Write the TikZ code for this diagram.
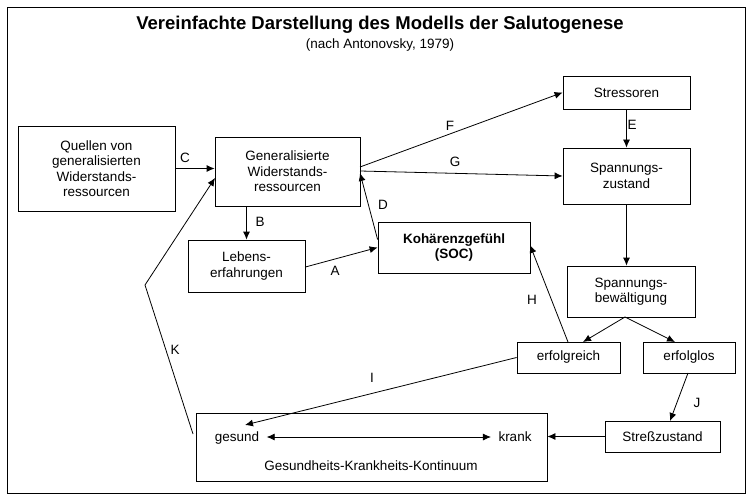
\documentclass[tikz,border=0pt]{standalone}
\usepackage{fontspec}
\setmainfont{Liberation Sans}
\usetikzlibrary{arrows.meta}
\begin{document}
\begin{tikzpicture}[x=1pt,y=-1pt,
  box/.style={draw,thick,align=center,inner sep=0pt,font=\fontsize{13.5}{15.5}\selectfont},
  lab/.style={font=\fontsize{13.5}{15.5}\selectfont},
  arr/.style={draw,thick,-{Latex[length=8pt,width=7pt]}}]
\useasboundingbox (0,0) rectangle (752,500);
\draw[thick] (7,7) rectangle (745,493);
\node[font=\bfseries\fontsize{18.5}{21}\selectfont] (title) at (380,25) {Vereinfachte Darstellung des Modells der Salutogenese};
\node[lab] (sub) at (380,45) {(nach Antonovsky, 1979)};
\node[box,minimum width=157pt,minimum height=85pt] (Q) at (96.5,168.5) {Quellen von\\generalisierten\\Widerstands-\\ressourcen};
\node[box,minimum width=145pt,minimum height=69pt] (G) at (287.5,171.5) {Generalisierte\\Widerstands-\\ressourcen};
\node[box,minimum width=127pt,minimum height=33pt] (S) at (626.5,92.5) {Stressoren};
\node[box,minimum width=127pt,minimum height=56pt] (SZ) at (626.5,176) {Spannungs-\\zustand};
\node[box,minimum width=117pt,minimum height=52pt] (L) at (246.5,266) {Lebens-\\erfahrungen};
\node[box,minimum width=152pt,minimum height=51pt,font=\bfseries\fontsize{13.5}{15.5}\selectfont] (K) at (454,247.5) {Kohärenzgefühl\\(SOC)};
\node[box,minimum width=128pt,minimum height=51pt] (SB) at (631,291.5) {Spannungs-\\bewältigung};
\node[box,minimum width=103pt,minimum height=31pt] (ER) at (568.5,357.5) {erfolgreich};
\node[box,minimum width=92pt,minimum height=31pt] (EL) at (689,357.5) {erfolglos};
\node[box,minimum width=351pt,minimum height=68pt] (GK) at (371.5,447) {};
\node[lab,anchor=base] (gesund) at (237,441) {gesund};
\node[lab,anchor=base] (krank) at (515,441) {krank};
\node[lab] (kont) at (371,466) {Gesundheits-Krankheits-Kontinuum};
\node[box,minimum width=115pt,minimum height=31pt] (SZ2) at (662.5,436.5) {Streßzustand};
\coordinate (kb) at (145,285);
% arrows
\draw[arr] (Q.east) -- (G.west |- Q.east);
\node[lab] at (185,158) {C};
\draw[arr] (G.south -| L.north) -- (L.north);
\node[lab] at (260,222) {B};
\draw[arr] (L.east) ++(0,1) -- (K.west);
\node[lab] at (335,271) {A};
\draw[arr] (K.west) ++(0,-8) -- (360,173);
\node[lab] at (383,205) {D};
\draw[arr] (360,167) -- (S.west);
\node[lab] at (450,126) {F};
\draw[arr] (360,171) -- (SZ.west);
\node[lab] at (455,162) {G};
\draw[arr] (S.south) -- (S.south |- SZ.north);
\node[lab] at (632,125) {E};
\draw[arr] (SZ.south) -- (SZ.south |- SB.north);
\draw[arr] (625,317) -- (583,342);
\draw[arr] (625,317) -- (675,342);
\draw[arr] (568,342) -- (530,245);
\node[lab] at (532,300) {H};
\draw[arr] (ER.west) -- (245,425);
\node[lab] at (372,378) {I};
\draw[arr] (688,373) -- (670,421);
\node[lab] at (697,403) {J};
\draw[arr] (SZ2.west) -- (GK.east |- SZ2.west);
\draw[thick,{Latex[length=8pt,width=7pt]}-{Latex[length=8pt,width=7pt]}] ([xshift=4pt]gesund.east |- 0,437) -- ([xshift=-4pt]krank.west |- 0,437);
\draw[arr] (193,434) -- (kb) -- (215,178);
\node[lab] at (175,350) {K};
\end{tikzpicture}
\end{document}
